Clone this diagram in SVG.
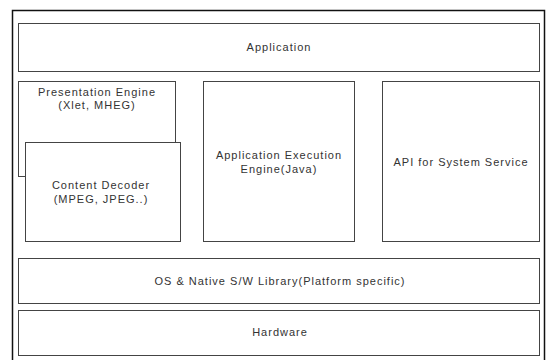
<svg xmlns="http://www.w3.org/2000/svg" width="550" height="360" viewBox="0 0 550 360">
  <style>
    .frame { fill: none; stroke: #111; stroke-width: 1.5; }
    .box { fill: #fff; stroke: #444; stroke-width: 1; }
    .lbl { font-family: "Liberation Sans", Arial, sans-serif; font-size: 11px; letter-spacing: 1px; fill: #333; text-anchor: middle; }
  </style>
  <rect width="550" height="360" fill="#fff"/>
  <!-- outer platform frame -->
  <rect class="frame" x="12.5" y="10.5" width="532" height="352"/>

  <g id="application">
    <rect class="box" x="18.5" y="23.5" width="521" height="48"/>
    <text class="lbl" x="279" y="51">Application</text>
  </g>

  <g id="presentation-engine">
    <rect class="box" x="18.5" y="81.5" width="157" height="95"/>
    <text class="lbl" x="97" y="96">Presentation Engine</text>
    <text class="lbl" x="97" y="109">(Xlet, MHEG)</text>
  </g>

  <g id="content-decoder">
    <rect class="box" x="25.5" y="142.5" width="155" height="99"/>
    <text class="lbl" x="101" y="189">Content Decoder</text>
    <text class="lbl" x="101" y="203">(MPEG, JPEG..)</text>
  </g>

  <g id="app-execution-engine">
    <rect class="box" x="203.5" y="81.5" width="151" height="160"/>
    <text class="lbl" x="279" y="159">Application Execution</text>
    <text class="lbl" x="279" y="173">Engine(Java)</text>
  </g>

  <g id="api-system-service">
    <rect class="box" x="382.5" y="81.5" width="157" height="160"/>
    <text class="lbl" x="461" y="166">API for System Service</text>
  </g>

  <g id="os-native-library">
    <rect class="box" x="18.5" y="258.5" width="521" height="45"/>
    <text class="lbl" x="280" y="285">OS &amp; Native S/W Library(Platform specific)</text>
  </g>

  <g id="hardware">
    <rect class="box" x="18.5" y="310.5" width="521" height="45"/>
    <text class="lbl" x="280" y="336">Hardware</text>
  </g>

  <g id="connectors"></g>
</svg>
